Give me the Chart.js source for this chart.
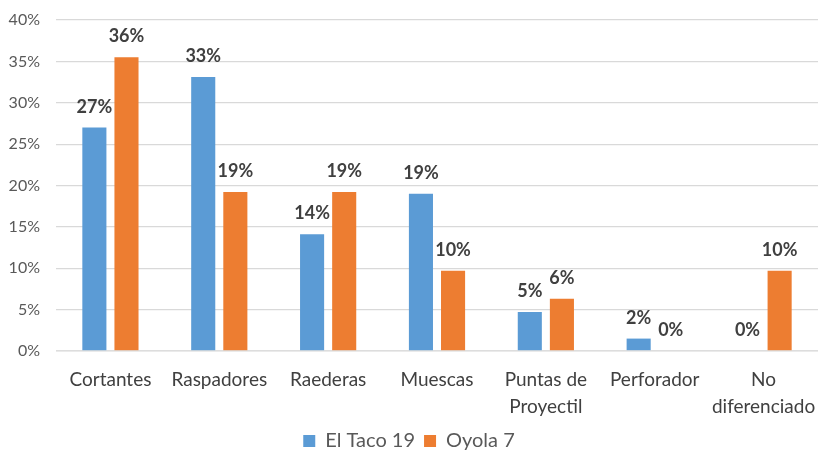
<!DOCTYPE html>
<html>
<head>
<meta charset="utf-8">
<script src="https://cdn.jsdelivr.net/npm/chart.js@4/dist/chart.umd.min.js"></script>
<style>
html,body{margin:0;padding:0;background:#fff;}
#wrap{width:818px;height:459px;position:relative;}
</style>
</head>
<body>
<div id="wrap"><canvas id="c"></canvas></div>
<script>
const categories = ["Cortantes", "Raspadores", "Raederas", "Muescas", ["Puntas de", "Proyectil"], "Perforador", ["No", "diferenciado"]];
const seriesNames = ["El Taco 19", "Oyola 7"];
const elTaco19 = [27.0, 33.1, 14.1, 19.0, 4.7, 1.5, 0];
const oyola7 = [35.5, 19.2, 19.2, 9.7, 6.3, 0, 9.7];
const yTicks = [0, 5, 10, 15, 20, 25, 30, 35, 40];

const FONT = "Lato, 'Open Sans', sans-serif";

const labelPlugin = {
  id: 'valueLabels',
  afterDatasetsDraw(chart) {
    const ctx = chart.ctx;
    const yScale = chart.scales.y;
    const y0 = yScale.getPixelForValue(0);
    ctx.save();
    ctx.strokeStyle = 'rgba(225,225,225,0.75)';
    ctx.lineWidth = 1.5;
    ctx.beginPath();
    ctx.moveTo(chart.chartArea.left, y0);
    ctx.lineTo(chart.chartArea.right, y0);
    ctx.stroke();
    ctx.restore();

    ctx.save();
    ctx.font = "bold 18px " + FONT;
    ctx.fillStyle = '#404040';
    ctx.textAlign = 'center';
    ctx.textBaseline = 'alphabetic';
    chart.data.datasets.forEach((ds, di) => {
      const meta = chart.getDatasetMeta(di);
      meta.data.forEach((el, i) => {
        const v = ds.data[i];
        ctx.fillText(Math.round(v) + '%', el.x, el.y - 15);
      });
    });
    ctx.restore();
  }
};

new Chart(document.getElementById('c'), {
  type: 'bar',
  data: {
    labels: categories,
    datasets: [
      { label: seriesNames[0], data: elTaco19, backgroundColor: '#5B9BD5', categoryPercentage: 0.59, barPercentage: 0.75 },
      { label: seriesNames[1], data: oyola7, backgroundColor: '#ED7D31', categoryPercentage: 0.59, barPercentage: 0.75 }
    ]
  },
  options: {
    responsive: true,
    maintainAspectRatio: false,
    animation: false,
    layout: { padding: { top: 20, right: 0, left: 0, bottom: -2 } },
    plugins: {
      tooltip: { enabled: false },
      legend: {
        position: 'bottom',
        labels: {
          boxWidth: 12, boxHeight: 12, padding: 9,
          color: '#595959',
          font: { family: FONT, size: 20 }
        }
      }
    },
    scales: {
      x: {
        afterFit(axis) { axis.height = 71; axis.paddingLeft = 0; axis.paddingRight = 0; },
        grid: { display: false, drawTicks: false },
        border: { display: false },
        ticks: { color: '#404040', font: { family: FONT, size: 19, lineHeight: 1.45 }, padding: 15, maxRotation: 0, autoSkip: false }
      },
      y: {
        min: 0, max: 40,
        afterBuildTicks(axis) { axis.ticks = yTicks.map(v => ({ value: v })); },
        afterFit(axis) { axis.width = 56; axis.paddingTop = 0; axis.paddingBottom = 0; },
        grid: { color: '#D9D9D9', lineWidth: 1.2, drawTicks: false },
        border: { display: false },
        ticks: { color: '#595959', font: { family: FONT, size: 16 }, padding: 16, callback: v => v + '%' }
      }
    }
  },
  plugins: [labelPlugin]
});
</script>
</body>
</html>
